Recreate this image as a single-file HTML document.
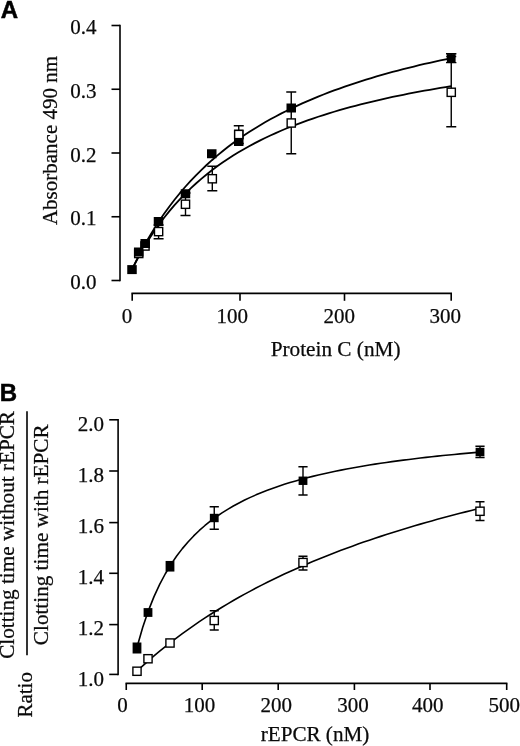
<!DOCTYPE html>
<html><head><meta charset="utf-8"><title>Figure</title>
<style>
html,body{margin:0;padding:0;background:#fff;}
svg{display:block;filter:grayscale(1);}
.t{font-family:"Liberation Serif",serif;font-size:21px;fill:#0a0a0a;stroke:#0a0a0a;stroke-width:0.25;}
.pl{font-family:"Liberation Sans",sans-serif;font-weight:bold;font-size:24px;fill:#000;stroke:#000;stroke-width:0.5;}
.ax{stroke:#000;stroke-width:1.6;fill:none;}
.cv{stroke:#000;stroke-width:1.8;fill:none;stroke-linejoin:round;}
.cb{stroke-width:1.6;}
</style></head><body>
<svg width="520" height="746" viewBox="0 0 520 746">
<rect width="520" height="746" fill="#fff"/>
<text x="0.8" y="18" class="pl">A</text>
<path d="M120,24.8V281.2" class="ax"/>
<path d="M111.5,280.50H120" class="ax"/>
<text x="96.5" y="289.10" class="t" text-anchor="end">0.0</text>
<path d="M111.5,216.75H120" class="ax"/>
<text x="96.5" y="225.35" class="t" text-anchor="end">0.1</text>
<path d="M111.5,153.00H120" class="ax"/>
<text x="96.5" y="161.60" class="t" text-anchor="end">0.2</text>
<path d="M111.5,89.25H120" class="ax"/>
<text x="96.5" y="97.85" class="t" text-anchor="end">0.3</text>
<path d="M111.5,25.50H120" class="ax"/>
<text x="96.5" y="34.10" class="t" text-anchor="end">0.4</text>
<path d="M131.4,293.4H452" class="ax"/>
<path d="M132.2,293.4V300.8" class="ax"/>
<text x="127" y="322.6" class="t" text-anchor="middle">0</text>
<path d="M240,293.4V300.8" class="ax"/>
<text x="232.3" y="322.6" class="t" text-anchor="middle">100</text>
<path d="M344.5,293.4V300.8" class="ax"/>
<text x="339.2" y="322.6" class="t" text-anchor="middle">200</text>
<path d="M451.2,293.4V300.8" class="ax"/>
<text x="445.2" y="322.6" class="t" text-anchor="middle">300</text>
<text x="335.6" y="356" class="t" style="font-size:21.25px" text-anchor="middle">Protein C (nM)</text>
<text transform="translate(56.8,140.5) rotate(-90)" class="t" text-anchor="middle">Absorbance 490 nm</text>
<path d="M132.20,269.16 L137.51,258.29 L142.83,248.17 L148.14,238.72 L153.45,229.87 L158.77,221.57 L164.08,213.77 L169.39,206.43 L174.71,199.50 L180.02,192.96 L185.33,186.77 L190.65,180.90 L195.96,175.33 L201.27,170.04 L206.59,165.00 L211.90,160.20 L217.21,155.63 L222.53,151.26 L227.84,147.08 L233.15,143.09 L238.47,139.26 L243.78,135.60 L249.09,132.08 L254.41,128.70 L259.72,125.45 L265.03,122.33 L270.35,119.33 L275.66,116.43 L280.97,113.65 L286.29,110.96 L291.60,108.36 L296.91,105.85 L302.23,103.43 L307.54,101.09 L312.85,98.83 L318.17,96.63 L323.48,94.51 L328.79,92.45 L334.11,90.46 L339.42,88.53 L344.73,86.65 L350.05,84.83 L355.36,83.06 L360.67,81.34 L365.99,79.67 L371.30,78.05 L376.61,76.47 L381.93,74.93 L387.24,73.44 L392.55,71.98 L397.87,70.56 L403.18,69.18 L408.49,67.83 L413.81,66.52 L419.12,65.24 L424.43,63.99 L429.75,62.77 L435.06,61.58 L440.37,60.41 L445.69,59.28 L451.00,58.17" class="cv"/>
<path d="M132.20,268.95 L137.51,258.72 L142.83,249.26 L148.14,240.51 L153.45,232.37 L158.77,224.79 L164.08,217.71 L169.39,211.09 L174.71,204.88 L180.02,199.04 L185.33,193.54 L190.65,188.36 L195.96,183.47 L201.27,178.84 L206.59,174.45 L211.90,170.29 L217.21,166.33 L222.53,162.57 L227.84,158.99 L233.15,155.57 L238.47,152.31 L243.78,149.20 L249.09,146.22 L254.41,143.37 L259.72,140.64 L265.03,138.02 L270.35,135.51 L275.66,133.09 L280.97,130.77 L286.29,128.54 L291.60,126.39 L296.91,124.33 L302.23,122.33 L307.54,120.41 L312.85,118.56 L318.17,116.77 L323.48,115.04 L328.79,113.37 L334.11,111.75 L339.42,110.19 L344.73,108.67 L350.05,107.21 L355.36,105.79 L360.67,104.41 L365.99,103.08 L371.30,101.79 L376.61,100.53 L381.93,99.31 L387.24,98.13 L392.55,96.98 L397.87,95.86 L403.18,94.78 L408.49,93.73 L413.81,92.70 L419.12,91.70 L424.43,90.73 L429.75,89.79 L435.06,88.87 L440.37,87.97 L445.69,87.10 L451.00,86.25" class="cv"/>
<rect x="134.65" y="249.40" width="8.2" height="8.2" fill="#fff" stroke="#000" stroke-width="1.4"/>
<rect x="140.90" y="241.90" width="8.2" height="8.2" fill="#fff" stroke="#000" stroke-width="1.4"/>
<path d="M158.60,225.00V238.80M153.60,225.00h10M153.60,238.80h10" stroke="#000" stroke-width="1.4" fill="none"/>
<rect x="154.50" y="227.50" width="8.2" height="8.2" fill="#fff" stroke="#000" stroke-width="1.4"/>
<path d="M185.50,193.00V215.50M180.50,193.00h10M180.50,215.50h10" stroke="#000" stroke-width="1.4" fill="none"/>
<rect x="181.40" y="200.15" width="8.2" height="8.2" fill="#fff" stroke="#000" stroke-width="1.4"/>
<path d="M212.30,166.25V190.75M207.30,166.25h10M207.30,190.75h10" stroke="#000" stroke-width="1.4" fill="none"/>
<rect x="208.20" y="174.65" width="8.2" height="8.2" fill="#fff" stroke="#000" stroke-width="1.4"/>
<path d="M238.75,125.75V143.50M233.75,125.75h10M233.75,143.50h10" stroke="#000" stroke-width="1.4" fill="none"/>
<rect x="234.65" y="130.40" width="8.2" height="8.2" fill="#fff" stroke="#000" stroke-width="1.4"/>
<path d="M291.25,92.00V153.75M286.25,92.00h10M286.25,153.75h10" stroke="#000" stroke-width="1.4" fill="none"/>
<rect x="287.15" y="118.90" width="8.2" height="8.2" fill="#fff" stroke="#000" stroke-width="1.4"/>
<path d="M451.25,56.50V126.75M446.25,56.50h10M446.25,126.75h10" stroke="#000" stroke-width="1.4" fill="none"/>
<rect x="447.15" y="88.20" width="8.2" height="8.2" fill="#fff" stroke="#000" stroke-width="1.4"/>
<rect x="127.25" y="265.10" width="9.5" height="9" fill="#000"/>
<rect x="133.95" y="247.50" width="9.5" height="9" fill="#000"/>
<rect x="140.45" y="239.00" width="9.5" height="9" fill="#000"/>
<rect x="153.75" y="217.00" width="9.5" height="9" fill="#000"/>
<rect x="180.75" y="189.25" width="9.5" height="9" fill="#000"/>
<rect x="207.00" y="149.25" width="9.5" height="9" fill="#000"/>
<rect x="234.00" y="137.00" width="9.5" height="9" fill="#000"/>
<rect x="286.50" y="103.50" width="9.5" height="9" fill="#000"/>
<rect x="446.80" y="54.10" width="8.8" height="8.2" fill="#000"/>
<path d="M451.20,53.80V62.60M446.00,53.80h10.4M446.00,62.60h10.4" stroke="#000" stroke-width="1.4" fill="none"/>
<rect x="234.65" y="130.40" width="8.2" height="8.2" fill="#fff" stroke="#000" stroke-width="1.4"/>
<text x="-0.2" y="400.8" class="pl">B</text>
<path d="M118.1,419V675.2" class="ax"/>
<path d="M109.2,674.40H118" class="ax"/>
<text x="104" y="685.50" class="t" text-anchor="end">1.0</text>
<path d="M109.2,624.60H118" class="ax"/>
<text x="104" y="634.60" class="t" text-anchor="end">1.2</text>
<path d="M109.2,573.30H118" class="ax"/>
<text x="104" y="583.70" class="t" text-anchor="end">1.4</text>
<path d="M109.2,522.60H118" class="ax"/>
<text x="104" y="532.80" class="t" text-anchor="end">1.6</text>
<path d="M109.2,471.00H118" class="ax"/>
<text x="104" y="481.90" class="t" text-anchor="end">1.8</text>
<path d="M109.2,419.80H118" class="ax"/>
<text x="104" y="431.00" class="t" text-anchor="end">2.0</text>
<path d="M125.5,683.4H507.4" class="ax"/>
<path d="M126.25,683.4V690" class="ax"/>
<text x="122.6" y="712.3" class="t" text-anchor="middle">0</text>
<path d="M202.2,683.4V690" class="ax"/>
<text x="199.5" y="712.3" class="t" text-anchor="middle">100</text>
<path d="M278.2,683.4V690" class="ax"/>
<text x="276.3" y="712.3" class="t" text-anchor="middle">200</text>
<path d="M354.4,683.4V690" class="ax"/>
<text x="353" y="712.3" class="t" text-anchor="middle">300</text>
<path d="M430,683.4V690" class="ax"/>
<text x="427.7" y="712.3" class="t" text-anchor="middle">400</text>
<path d="M506.7,683.4V690" class="ax"/>
<text x="504.2" y="712.3" class="t" text-anchor="middle">500</text>
<text x="315" y="741" class="t" style="font-size:21.15px" text-anchor="middle">rEPCR (nM)</text>
<text transform="translate(14.2,411) rotate(-90)" class="t" style="font-size:21.2px" text-anchor="end">Clotting time without rEPCR</text>
<text transform="translate(48.3,424.4) rotate(-90)" class="t" style="font-size:21.2px" text-anchor="end">Clotting time with rEPCR</text>
<text transform="translate(32.2,694.8) rotate(-90)" class="t" text-anchor="middle">Ratio</text>
<path d="M27,411.2V655.2" class="ax"/>
<path d="M137.00,647.22 L142.67,627.46 L148.33,610.84 L154.00,596.66 L159.67,584.42 L165.33,573.75 L171.00,564.36 L176.67,556.04 L182.33,548.62 L188.00,541.95 L193.67,535.93 L199.33,530.47 L205.00,525.49 L210.67,520.94 L216.33,516.75 L222.00,512.89 L227.67,509.32 L233.33,506.01 L239.00,502.93 L244.67,500.06 L250.33,497.38 L256.00,494.86 L261.67,492.50 L267.33,490.28 L273.00,488.19 L278.67,486.22 L284.33,484.36 L290.00,482.59 L295.67,480.91 L301.33,479.32 L307.00,477.81 L312.67,476.37 L318.33,475.00 L324.00,473.69 L329.67,472.44 L335.33,471.25 L341.00,470.10 L346.67,469.01 L352.33,467.96 L358.00,466.95 L363.67,465.98 L369.33,465.05 L375.00,464.15 L380.67,463.29 L386.33,462.46 L392.00,461.66 L397.67,460.89 L403.33,460.14 L409.00,459.42 L414.67,458.73 L420.33,458.05 L426.00,457.40 L431.67,456.77 L437.33,456.16 L443.00,455.57 L448.67,455.00 L454.33,454.44 L460.00,453.90 L465.67,453.38 L471.33,452.87 L477.00,452.37" class="cv cb"/>
<path d="M137.00,670.99 L142.67,665.82 L148.33,660.80 L154.00,655.93 L159.67,651.21 L165.33,646.62 L171.00,642.17 L176.67,637.85 L182.33,633.64 L188.00,629.56 L193.67,625.58 L199.33,621.71 L205.00,617.95 L210.67,614.28 L216.33,610.71 L222.00,607.23 L227.67,603.83 L233.33,600.53 L239.00,597.30 L244.67,594.15 L250.33,591.08 L256.00,588.08 L261.67,585.15 L267.33,582.29 L273.00,579.49 L278.67,576.76 L284.33,574.09 L290.00,571.48 L295.67,568.92 L301.33,566.42 L307.00,563.98 L312.67,561.58 L318.33,559.24 L324.00,556.94 L329.67,554.70 L335.33,552.49 L341.00,550.34 L346.67,548.22 L352.33,546.15 L358.00,544.12 L363.67,542.12 L369.33,540.17 L375.00,538.25 L380.67,536.37 L386.33,534.52 L392.00,532.71 L397.67,530.93 L403.33,529.19 L409.00,527.47 L414.67,525.79 L420.33,524.13 L426.00,522.50 L431.67,520.91 L437.33,519.34 L443.00,517.79 L448.67,516.27 L454.33,514.78 L460.00,513.32 L465.67,511.87 L471.33,510.45 L477.00,509.06" class="cv cb"/>
<rect x="132.90" y="667.15" width="8.2" height="8.2" fill="#fff" stroke="#000" stroke-width="1.4"/>
<rect x="143.90" y="654.65" width="8.2" height="8.2" fill="#fff" stroke="#000" stroke-width="1.4"/>
<rect x="165.90" y="638.90" width="8.2" height="8.2" fill="#fff" stroke="#000" stroke-width="1.4"/>
<path d="M214.25,610.75V630.00M209.75,610.75h9M209.75,630.00h9" stroke="#000" stroke-width="1.4" fill="none"/>
<rect x="210.15" y="616.40" width="8.2" height="8.2" fill="#fff" stroke="#000" stroke-width="1.4"/>
<path d="M303.00,556.25V570.00M298.50,556.25h9M298.50,570.00h9" stroke="#000" stroke-width="1.4" fill="none"/>
<rect x="298.90" y="558.40" width="8.2" height="8.2" fill="#fff" stroke="#000" stroke-width="1.4"/>
<path d="M480.00,501.75V520.50M475.50,501.75h9M475.50,520.50h9" stroke="#000" stroke-width="1.4" fill="none"/>
<rect x="475.90" y="507.15" width="8.2" height="8.2" fill="#fff" stroke="#000" stroke-width="1.4"/>
<rect x="132.60" y="642.50" width="8.8" height="11" fill="#000"/>
<rect x="143.60" y="608.10" width="8.8" height="8.8" fill="#000"/>
<rect x="165.60" y="560.95" width="8.8" height="10.6" fill="#000"/>
<path d="M214.25,506.75V529.25M209.65,506.75h9.2M209.65,529.25h9.2" stroke="#000" stroke-width="1.4" fill="none"/>
<rect x="209.85" y="513.80" width="8.8" height="8.4" fill="#000"/>
<path d="M303.00,466.75V495.00M298.40,466.75h9.2M298.40,495.00h9.2" stroke="#000" stroke-width="1.4" fill="none"/>
<rect x="298.60" y="476.55" width="8.8" height="8.4" fill="#000"/>
<path d="M480.00,446.25V457.50M475.40,446.25h9.2M475.40,457.50h9.2" stroke="#000" stroke-width="1.4" fill="none"/>
<rect x="475.60" y="447.80" width="8.8" height="8.4" fill="#000"/>
</svg>
</body></html>
